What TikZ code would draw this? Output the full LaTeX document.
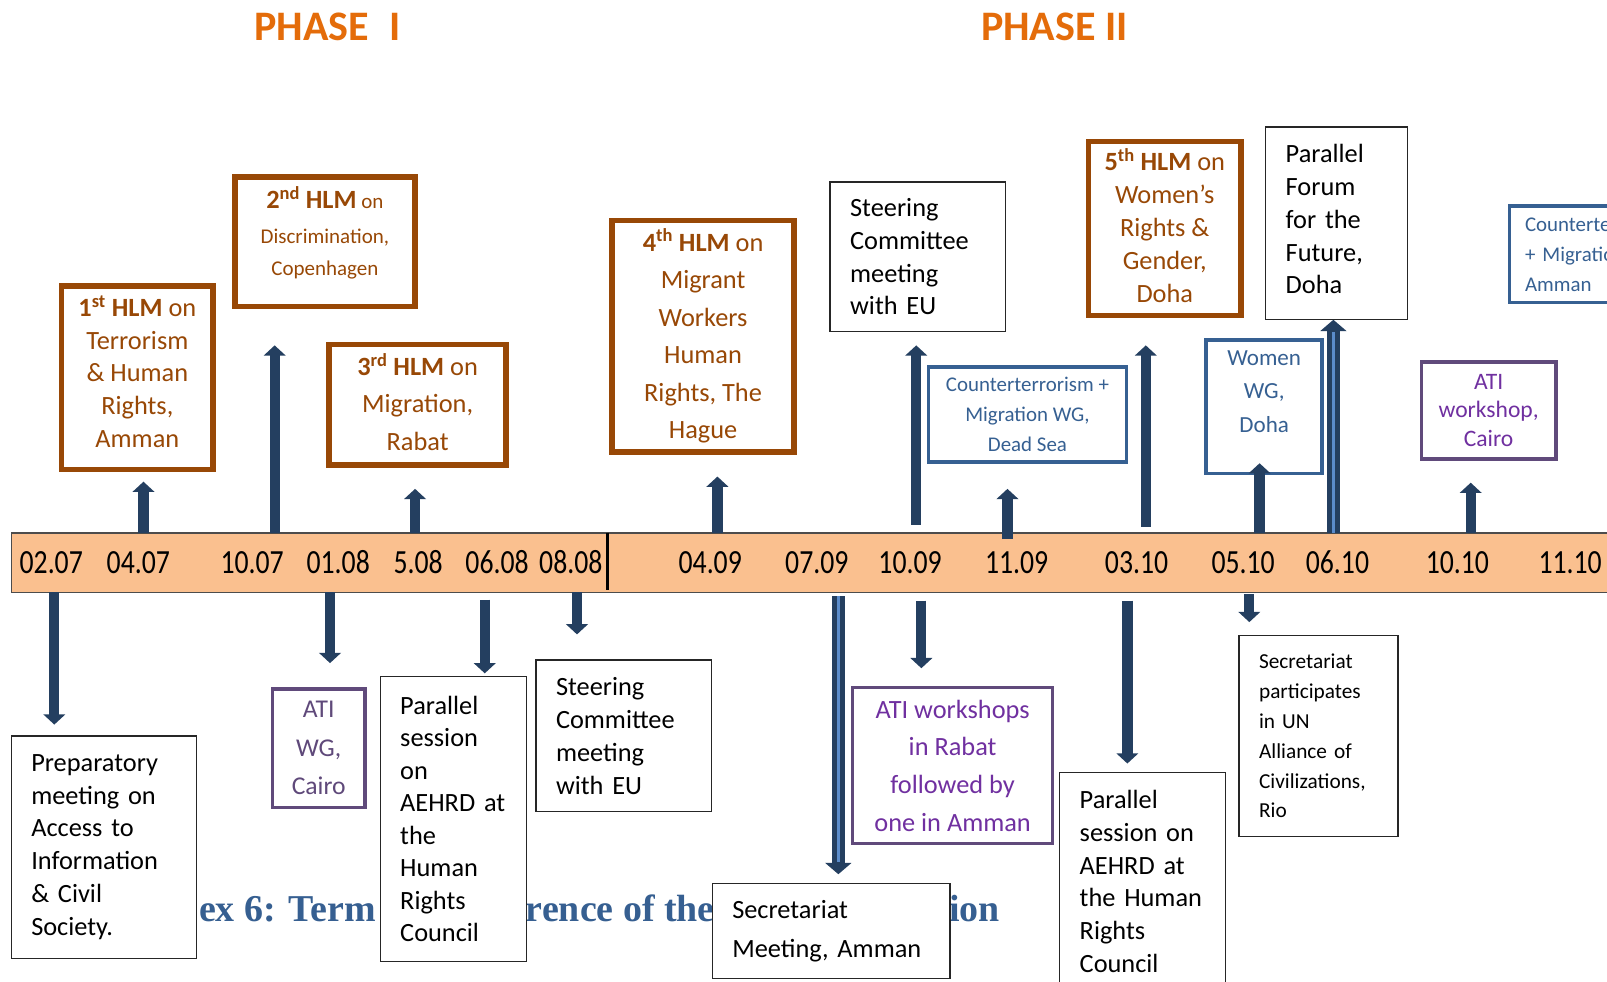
\documentclass[tikz,border=0pt]{standalone}
\usepackage{fontspec}
\setmainfont{Carlito}
\newfontfamily\datefont[FakeStretch=0.82]{Carlito}
\newfontfamily\serifhead{Liberation Serif}
\usetikzlibrary{arrows.meta,calc}
\definecolor{hlmbrown}{RGB}{152,72,6}
\definecolor{wgblue}{RGB}{54,96,146}
\definecolor{atipurple}{RGB}{96,74,123}
\definecolor{atitext}{RGB}{112,48,160}
\definecolor{atiwgtext}{RGB}{95,73,122}
\definecolor{navy}{RGB}{36,63,96}
\definecolor{phaseorange}{RGB}{228,108,10}
\definecolor{barfill}{RGB}{250,192,143}
\definecolor{headblue}{RGB}{54,95,145}
\definecolor{lightline}{RGB}{91,140,203}
\tikzset{
  fs/.style 2 args={font=\fontsize{#1}{#2}\selectfont},
  evbox/.style={fill=white, inner sep=0pt, outer sep=0pt, align=center},
  hlm/.style={evbox, draw=hlmbrown, line width=5.5pt, text=hlmbrown},
  hlmtext/.style={text=hlmbrown, align=center, inner sep=0pt},
  wg/.style={evbox, draw=wgblue, line width=3.5pt, text=wgblue},
  ati/.style={evbox, draw=atipurple, line width=3.5pt, text=atitext},
  plainbox/.style={fill=white, draw=black!85, line width=1.3pt, align=left, inner ysep=0pt, inner xsep=19.5pt, outer sep=0pt},
  datelabel/.style={font=\datefont\fontsize{33}{36}\selectfont, anchor=base, inner sep=0pt},
  phase/.style={font=\bfseries\fontsize{41}{44}\selectfont, text=phaseorange, anchor=base west, inner sep=0pt},
  headfrag/.style={font=\serifhead\bfseries\fontsize{37}{40}\selectfont, text=headblue, anchor=base west, inner sep=0pt},
  arr/.style={draw=navy, line width=10pt, -{Triangle[width=21pt,length=10pt]}},
  dblarr/.style={draw=navy, line width=13pt, -{Triangle[width=25pt,length=11pt]}},
  innerline/.style={draw=lightline, line width=2.5pt}
}
\begin{document}
\begin{tikzpicture}[x=1pt,y=-1pt]
\useasboundingbox (0,0) rectangle (1568,958);
\clip (0,0) rectangle (1568,958);
\fill[white] (0,0) rectangle (1568,958);

% titles
\node[phase] (ph1) at (248,40) {PHASE\hspace{20pt}I};
\node[phase] (ph2) at (957,40) {PHASE II};

% background heading fragments
\node[headfrag] (hf1) at (194,899) {ex 6: Term};
\node[headfrag] (hf2) at (513,899) {rence of the};
\node[headfrag] (hf3) at (926,899) {ion};

% timeline bar
\node[draw=black!70, fill=barfill, line width=1.3pt, minimum width=1600pt, minimum height=58pt, inner sep=0pt, outer sep=0pt] (bar) at (811,549) {};
\coordinate (div) at (593,0);
\draw[line width=3pt] (div |- bar.north) -- ($(div |- bar.south)+(0,-2)$);

\node[datelabel] (t1) at (50,560) {02.07};
\node[datelabel] (t2) at (135,560) {04.07};
\node[datelabel] (t3) at (246,560) {10.07};
\node[datelabel] (t4) at (330,560) {01.08};
\node[datelabel] (t5) at (408,560) {5.08};
\node[datelabel] (t6) at (485,560) {06.08};
\node[datelabel] (t7) at (557,560) {08.08};
\node[datelabel] (t8) at (693,560) {04.09};
\node[datelabel] (t9) at (797,560) {07.09};
\node[datelabel] (t10) at (888,560) {10.09};
\node[datelabel] (t11) at (992,560) {11.09};
\node[datelabel] (t12) at (1109,560) {03.10};
\node[datelabel] (t13) at (1213,560) {05.10};
\node[datelabel] (t14) at (1305,560) {06.10};
\node[datelabel] (t15) at (1422,560) {10.10};
\node[datelabel] (t16) at (1532,560) {11.10};

% upper boxes
\node[hlm, minimum width=148pt, minimum height=179pt] (h1) at (134,368.5) {};
\node[hlmtext, fs={25.7}{32}] (h1t) at (134,362.5)
  {{\bfseries 1\textsuperscript{st} HLM} on\\Terrorism\\\& Human\\Rights,\\Amman};
\node[hlm, minimum width=176pt, minimum height=126pt] (h2) at (317,236) {};
\node[hlmtext, fs={20.5}{31}] (h2t) at (317,227)
  {{\bfseries\fontsize{25.7}{31}\selectfont 2\textsuperscript{nd} HLM} on\\[3pt]Discrimination,\\Copenhagen};
\node[hlm, minimum width=173pt, minimum height=118pt] (h3) at (407.5,395) {};
\node[hlmtext, fs={25.7}{36.5}] (h3t) at (407.5,392)
  {{\bfseries 3\textsuperscript{rd} HLM} on\\Migration,\\Rabat};
\node[hlm, minimum width=178pt, minimum height=226pt, fs={25.7}{36.6}] (h4) at (686,328)
  {{\bfseries 4\textsuperscript{th} HLM} on\\Migrant\\Workers\\Human\\Rights, The\\Hague};
\node[plainbox, minimum width=171pt, text width=132pt, minimum height=146pt, fs={25.7}{32}] (sc1) at (895.5,250.5)
  {Steering\\Committee\\meeting\\with EU};
\node[wg, minimum width=193pt, minimum height=93pt, fs={20.4}{29}] (wg1) at (1002.5,404.5)
  {Counterterrorism +\\Migration WG,\\Dead Sea};
\node[hlm, minimum width=149pt, minimum height=170pt] (h5) at (1136.5,223) {};
\node[hlmtext, fs={25.7}{32}] (h5t) at (1136.5,220)
  {{\bfseries 5\textsuperscript{th} HLM} on\\Women’s\\Rights \&\\Gender,\\Doha};
\node[wg, minimum width=113pt, minimum height=130pt] (wg2) at (1233.5,397) {};
\node[text=wgblue, align=center, inner sep=0pt, fs={22.5}{32.5}] (wg2t) at (1233.5,382)
  {Women\\WG,\\Doha};
\node[plainbox, minimum width=138pt, minimum height=188pt] (pf) at (1304,218) {};
\node[plainbox, draw=none, fill=none, minimum width=138pt, text width=99pt, fs={25.7}{32}] (pft) at (1304,214)
  {Parallel\\Forum\\for the\\Future,\\Doha};
\node[wg, align=left, inner xsep=15pt, minimum width=197pt, text width=167pt, minimum height=94pt, fs={20.4}{29}] (wg3) at (1571.5,248)
  {Counterterrorism\\+ Migration WG,\\Amman};
\node[ati, minimum width=131pt, minimum height=95pt, fs={23}{28}] (ati1) at (1452.5,400.5)
  {ATI\\workshop,\\Cairo};

% lower boxes
\node[plainbox, minimum width=181pt, text width=142pt, minimum height=217pt, fs={25.7}{32}] (prep) at (101.5,826.5)
  {Preparatory\\meeting on\\Access to\\Information\\\& Civil\\Society.};
\node[ati, text=atiwgtext, minimum width=90pt, minimum height=116pt, fs={25}{37.5}] (ati2) at (311,730)
  {ATI\\WG,\\Cairo};
\node[plainbox, minimum width=143pt, text width=104pt, minimum height=278pt, fs={25.7}{31.7}] (ps1) at (442.5,799)
  {Parallel\\session\\on\\AEHRD at\\the\\Human\\Rights\\Council};
\node[plainbox, minimum width=171pt, text width=132pt, minimum height=148pt, fs={25.7}{32}] (sc2) at (608.5,718)
  {Steering\\Committee\\meeting\\with EU};
\node[plainbox, minimum width=232pt, text width=193pt, minimum height=93pt, fs={25.7}{38}] (sec) at (811,908.5)
  {Secretariat\\Meeting, Amman};
\node[ati, minimum width=195pt, minimum height=152pt, fs={25.7}{36.7}] (ati3) at (929.5,747)
  {ATI workshops\\in Rabat\\followed by\\one in Amman};
\node[plainbox, minimum width=162pt, text width=123pt, minimum height=212pt, fs={25.7}{32}] (ps2) at (1115,860)
  {Parallel\\session on\\AEHRD at\\the Human\\Rights\\Council};
\node[plainbox, minimum width=155pt, text width=116pt, minimum height=196pt, fs={20.8}{29.2}] (secun) at (1286.5,718)
  {Secretariat\\participates\\in UN\\Alliance of\\Civilizations,\\Rio};

% up arrows
\coordinate (u1) at (140,470);
\coordinate (u2) at (268,337);
\coordinate (u3) at (405,477);
\coordinate (u4) at (700,465);
\coordinate (u5) at (894,337);
\coordinate (u6) at (983,477);
\coordinate (u7) at (1118,337);
\coordinate (u8) at (1229,452);
\coordinate (u9) at (1301,312);
\coordinate (u10) at (1435,471);
\draw[arr] (u1 |- bar.north) -- (u1);
\draw[arr] (u2 |- bar.north) -- (u2);
\draw[arr] (u3 |- bar.north) -- (u3);
\draw[arr] (u4 |- bar.north) -- (u4);
\draw[arr] ($(u5 |- bar.north)+(0,-8)$) -- (u5);
\draw[arr] ($(u6 |- bar.north)+(0,6)$) -- (u6);
\draw[arr] ($(u7 |- bar.north)+(0,-6)$) -- (u7);
\draw[arr] (u8 |- bar.north) -- (u8);
\draw[dblarr] (u9 |- bar.north) -- (u9);
\draw[innerline] (u9 |- bar.north) -- ($(u9)+(0,12)$);
\draw[arr] (u10 |- bar.north) -- (u10);

% down arrows
\coordinate (d1) at (53,707);
\coordinate (d2) at (322,647);
\coordinate (d3) at (473,657);
\coordinate (d4) at (563,619);
\coordinate (d5) at (818,853);
\coordinate (d6) at (899,652);
\coordinate (d7) at (1100,745);
\coordinate (d8) at (1219,607);
\draw[arr] (d1 |- bar.south) -- (d1);
\draw[arr] (d2 |- bar.south) -- (d2);
\draw[arr] ($(d3 |- bar.south)+(0,7)$) -- (d3);
\draw[arr] (d4 |- bar.south) -- (d4);
\draw[dblarr] ($(d5 |- bar.south)+(0,4)$) -- (d5);
\draw[innerline] ($(d5 |- bar.south)+(0,4)$) -- ($(d5)+(0,-12)$);
\draw[arr] ($(d6 |- bar.south)+(0,8)$) -- (d6);
\draw[arr] ($(d7 |- bar.south)+(0,8)$) -- (d7);
\draw[arr] ($(d8 |- bar.south)+(0,2)$) -- (d8);
\end{tikzpicture}
\end{document}
